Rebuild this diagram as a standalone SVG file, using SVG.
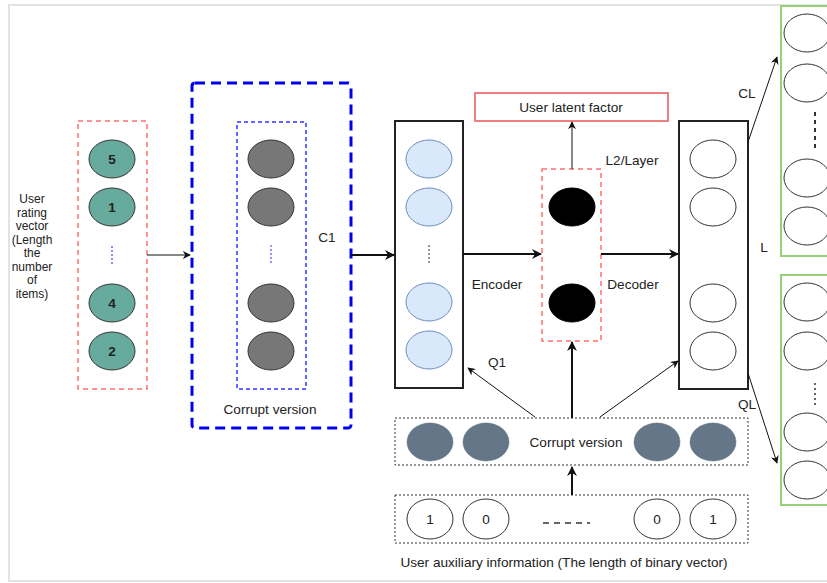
<svg xmlns="http://www.w3.org/2000/svg" width="827" height="583" viewBox="0 0 827 583">
<style>
text{font-family:"Liberation Sans",Arial,sans-serif;font-size:13.6px;fill:#222;text-anchor:middle;dominant-baseline:central}
.side{font-size:12px}
.teal{fill:#67ab9f;stroke:#333;stroke-width:1}
.gray{fill:#777;stroke:#333;stroke-width:1}
.lb{fill:#dae8fc;stroke:#6c8ebf;stroke-width:1}
.wh{fill:#fff;stroke:#333;stroke-width:1}
.blk{fill:#000;stroke:#000}
.slate{fill:#647687;stroke:#5a6a7a;stroke-width:0.5}
.grn{fill:#fff;stroke:#97d077;stroke-width:2}
.box{fill:#fff;stroke:#222;stroke-width:2}
.rdash{fill:none;stroke:#ff7070;stroke-width:1.5;stroke-dasharray:5 4}
.dot{fill:none;stroke:#333;stroke-width:1;stroke-dasharray:2 2}
.c{fill:none;stroke:#111;stroke-width:1}
.ct{fill:none;stroke:#111;stroke-width:2}
</style>
<defs>
<marker id="a" viewBox="0 0 10 10" refX="9" refY="5" markerWidth="8" markerHeight="8" markerUnits="userSpaceOnUse" orient="auto"><path d="M0,0 L10,5 L0,10 L3,5 z" fill="#111"/></marker>
<marker id="at" viewBox="0 0 10 10" refX="9" refY="5" markerWidth="10" markerHeight="10" markerUnits="userSpaceOnUse" orient="auto"><path d="M0,0 L10,5 L0,10 L3,5 z" fill="#111"/></marker>
</defs>
<rect x="0" y="0" width="827" height="583" fill="#fff"/>
<rect x="9" y="5" width="830" height="576" fill="none" stroke="#e3e3e3" stroke-width="2"/>

<g id="input-label" class="side">
<text class="side" x="32" y="199">User</text><text class="side" x="32" y="212.5">rating</text><text class="side" x="32" y="226">vector</text><text class="side" x="32" y="239.5">(Length</text><text class="side" x="32" y="253">the</text><text class="side" x="32" y="266.5">number</text><text class="side" x="32" y="280">of</text><text class="side" x="32" y="293.5">items)</text>
</g>

<g id="input">
<rect x="78" y="121" width="69" height="268" class="rdash"/>
<ellipse cx="112" cy="159" rx="23" ry="19" class="teal"/><text x="112" y="159" font-weight="bold" font-size="12">5</text>
<ellipse cx="112" cy="207" rx="23" ry="19" class="teal"/><text x="112" y="207" font-weight="bold" font-size="12">1</text>
<line x1="112" y1="246" x2="112" y2="265" stroke="#6666ff" stroke-width="1.5" stroke-dasharray="2 2"/>
<ellipse cx="112" cy="303" rx="23" ry="19" class="teal"/><text x="112" y="303" font-weight="bold" font-size="12">4</text>
<ellipse cx="112" cy="351" rx="23" ry="19" class="teal"/><text x="112" y="351" font-weight="bold" font-size="12">2</text>
</g>

<g id="corrupt1">
<rect x="192" y="83" width="159" height="345" rx="3" fill="none" stroke="#0000ee" stroke-width="3" stroke-dasharray="10 6"/>
<rect x="237" y="122" width="69" height="267" fill="none" stroke="#3333ff" stroke-width="1.5" stroke-dasharray="4 3"/>
<ellipse cx="271" cy="159" rx="23" ry="19" class="gray"/>
<ellipse cx="271" cy="207" rx="23" ry="19" class="gray"/>
<line x1="271" y1="245" x2="271" y2="265" stroke="#7777ff" stroke-width="1.5" stroke-dasharray="2 2"/>
<ellipse cx="271" cy="303" rx="23" ry="19" class="gray"/>
<ellipse cx="271" cy="351" rx="23" ry="19" class="gray"/>
<text x="327" y="237">C1</text>
<text x="270" y="409">Corrupt version</text>
</g>

<g id="encoder">
<rect x="395" y="121" width="68" height="267" class="box"/>
<ellipse cx="429" cy="159" rx="23" ry="19" class="lb"/>
<ellipse cx="429" cy="207" rx="23" ry="19" class="lb"/>
<line x1="429" y1="245" x2="429" y2="265" stroke="#777" stroke-width="1.5" stroke-dasharray="2 2"/>
<ellipse cx="429" cy="302" rx="23" ry="19" class="lb"/>
<ellipse cx="429" cy="350" rx="23" ry="19" class="lb"/>
</g>

<g id="latent">
<rect x="475" y="93" width="193" height="28" fill="#fff" stroke="#f08080" stroke-width="2"/>
<text x="571" y="107">User latent factor</text>
</g>

<g id="bottleneck">
<rect x="542" y="169" width="59" height="172" class="rdash"/>
<ellipse cx="572" cy="207" rx="23" ry="19" class="blk"/>
<ellipse cx="572" cy="303" rx="23" ry="19" class="blk"/>
</g>

<g id="decoder">
<rect x="679" y="121" width="69" height="268" class="box"/>
<ellipse cx="713" cy="159" rx="23" ry="19" class="wh"/>
<ellipse cx="713" cy="207" rx="23" ry="19" class="wh"/>
<ellipse cx="713" cy="303" rx="23" ry="19" class="wh"/>
<ellipse cx="713" cy="351" rx="23" ry="19" class="wh"/>
</g>

<g id="out-c">
<rect x="781" y="6" width="60" height="250" class="grn"/>
<ellipse cx="807" cy="33" rx="23" ry="19" class="wh"/>
<ellipse cx="807" cy="83" rx="23" ry="19" class="wh"/>
<line x1="815" y1="112" x2="815" y2="148" stroke="#333" stroke-width="2" stroke-dasharray="4 4"/>
<ellipse cx="807" cy="178" rx="23" ry="19" class="wh"/>
<ellipse cx="807" cy="226" rx="23" ry="19" class="wh"/>
</g>

<g id="out-q">
<rect x="781" y="275" width="60" height="230" class="grn"/>
<ellipse cx="807" cy="302" rx="23" ry="19" class="wh"/>
<ellipse cx="807" cy="351" rx="23" ry="19" class="wh"/>
<line x1="815" y1="383" x2="815" y2="408" stroke="#333" stroke-width="1.5" stroke-dasharray="2 3"/>
<ellipse cx="807" cy="432" rx="23" ry="19" class="wh"/>
<ellipse cx="807" cy="480" rx="23" ry="19" class="wh"/>
</g>

<g id="corrupt2">
<rect x="395" y="418" width="353" height="47" class="dot"/>
<ellipse cx="430" cy="442" rx="23" ry="19" class="slate"/>
<ellipse cx="486" cy="442" rx="23" ry="19" class="slate"/>
<ellipse cx="657" cy="442" rx="23" ry="19" class="slate"/>
<ellipse cx="713" cy="442" rx="23" ry="19" class="slate"/>
<text x="576" y="442">Corrupt version</text>
</g>

<g id="aux">
<rect x="395" y="495" width="353" height="48" class="dot"/>
<ellipse cx="430" cy="519" rx="23" ry="20" class="wh"/><text x="430" y="519" font-size="12">1</text>
<ellipse cx="486" cy="519" rx="23" ry="20" class="wh"/><text x="486" y="519" font-size="12">0</text>
<line x1="543" y1="523" x2="590" y2="523" stroke="#333" stroke-width="1.5" stroke-dasharray="6 5"/>
<ellipse cx="657" cy="519" rx="23" ry="20" class="wh"/><text x="657" y="519" font-size="12">0</text>
<ellipse cx="713" cy="519" rx="23" ry="20" class="wh"/><text x="713" y="519" font-size="12">1</text>
<text x="564" y="562" font-size="14.6">User auxiliary information (The length of binary vector)</text>
</g>

<g id="labels">
<text x="497" y="284">Encoder</text>
<text x="633" y="284">Decoder</text>
<text x="632" y="160">L2/Layer</text>
<text x="747" y="93">CL</text>
<text x="764" y="247">L</text>
<text x="747" y="404">QL</text>
<text x="497" y="362">Q1</text>
</g>

<g id="connectors">
<line x1="147" y1="255" x2="190" y2="255" class="c" marker-end="url(#a)"/>
<line x1="351" y1="255" x2="394" y2="255" class="ct" marker-end="url(#at)"/>
<line x1="463" y1="254" x2="541" y2="254" class="ct" marker-end="url(#at)"/>
<line x1="601" y1="254" x2="678" y2="254" class="ct" marker-end="url(#at)"/>
<line x1="572" y1="169" x2="572" y2="122" class="c" marker-end="url(#a)"/>
<line x1="748" y1="142" x2="777" y2="57" class="c" marker-end="url(#a)"/>
<line x1="748" y1="373" x2="777" y2="463" class="c" marker-end="url(#a)"/>
<line x1="572" y1="418" x2="572" y2="342" class="ct" marker-end="url(#at)"/>
<line x1="535" y1="417" x2="468" y2="368" class="c" marker-end="url(#a)"/>
<line x1="600" y1="417" x2="678" y2="361" class="c" marker-end="url(#a)"/>
<line x1="572" y1="495" x2="572" y2="467" class="ct" marker-end="url(#at)"/>
</g>
</svg>
